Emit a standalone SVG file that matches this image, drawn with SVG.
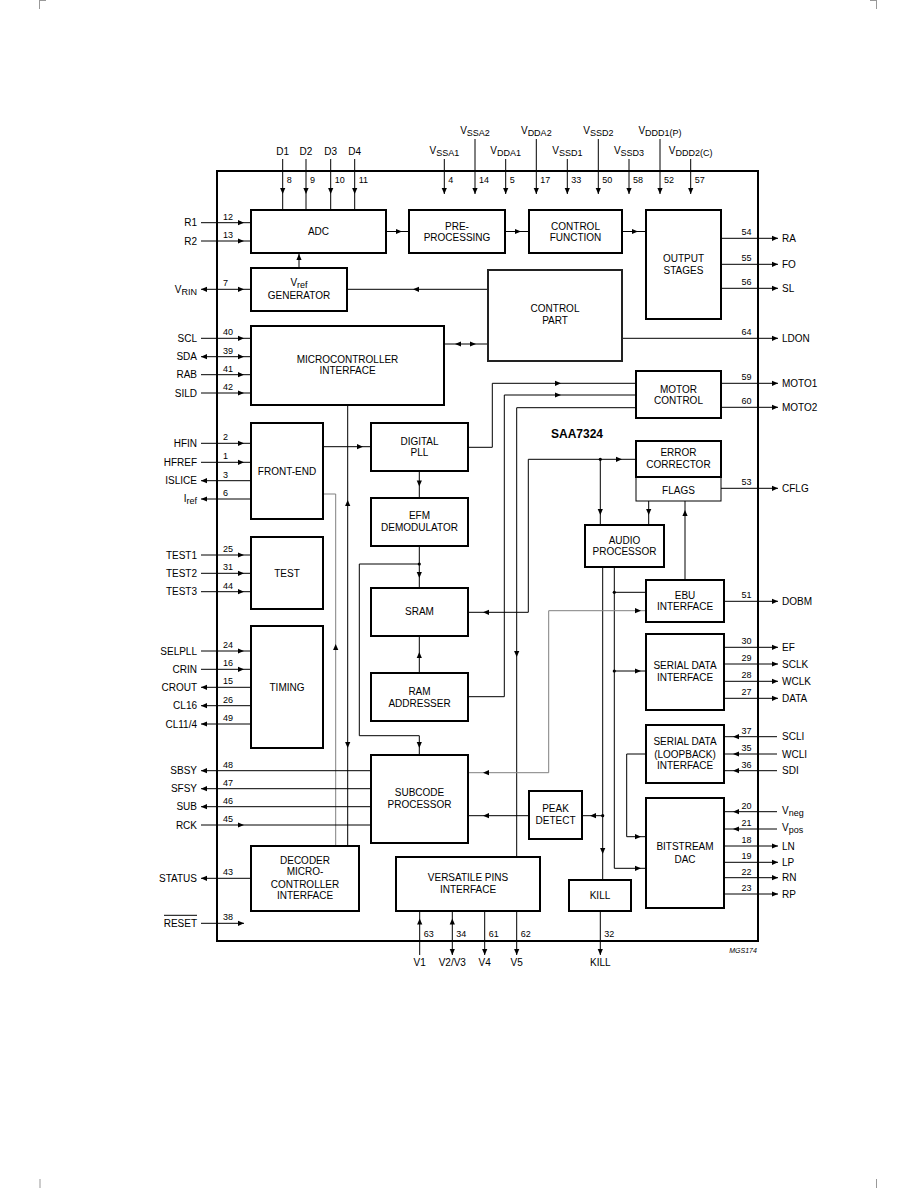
<svg xmlns="http://www.w3.org/2000/svg" width="918" height="1188" viewBox="0 0 918 1188">
<style>
text{font-family:"Liberation Sans",Arial,sans-serif;font-size:10px;fill:#000}
.n{font-size:9px}
.s{font-size:9px}
.bold{font-weight:bold;font-size:12px}
.it{font-style:italic;font-size:7px}
.box{fill:none;stroke:#000;stroke-width:2}
.thin{fill:none;stroke:#000;stroke-width:1}
.l{fill:none;stroke:#000;stroke-width:1}
.g{fill:none;stroke:#808080;stroke-width:1}
.m{stroke:#999;stroke-width:1;fill:none}
</style>
<defs>
<path id="ah" d="M0,0 L-6,-2.6 L-6,2.6 Z" fill="#000"/>
</defs>
<rect width="918" height="1188" fill="#fff"/>
<g id="cropmarks">
<path class="m" d="M39.5,0 V9 M39.5,0.5 H46 M876.5,0 V9 M870,0.5 H876.5 M40,1179 V1188 M876.5,1179 V1188"/>
</g>
<rect id="chip" x="217" y="171" width="541" height="770" class="box"/>
<g id="connectors">
<path class="l" d="M386,231.5 H409 M505,231.5 H529 M622,231.5 H646 M299,268 V253 M488,289.3 H347 M444,344 H488 M323,446.7 H371"/>
<path class="l" d="M468,447.3 H492.3 V383.3 H636 M468,696.7 H504.3 V395 H636 M636,407.7 H516.7 V857"/>
<path class="l" d="M419.3,471 V498 M419.3,546 V588 M419.3,564 H359.3 V735.7 H419.3 V755 M419.3,673 V636"/>
<path class="l" d="M468,612.3 H528.3 V459.3 H636 M600.3,459.3 V525 M648.7,501 V525 M685,580 V501"/>
<path class="l" d="M602.7,567 V880 M602.7,815.7 H582.3 M529,815.7 H468 M614.3,567 V868.3 H646 M614.3,592.3 H646 M614.3,671 H646 M646,754 H626.7 V836.7 H646"/>
<path class="g" d="M468,772.7 H548.7 V610.7 H646 M323,494 H335.7 V846"/>
<path class="l" d="M347.7,405 V846"/>
<circle cx="419.3" cy="564" r="1.6"/><circle cx="600.3" cy="459.3" r="1.6"/><circle cx="602.7" cy="815.7" r="1.6"/><circle cx="614.3" cy="592.3" r="1.6"/><circle cx="614.3" cy="671" r="1.6"/>
<use href="#ah" transform="translate(402,231.5)"/>
<use href="#ah" transform="translate(521,231.5)"/>
<use href="#ah" transform="translate(638,231.5)"/>
<use href="#ah" transform="translate(299,254) rotate(-90)"/>
<use href="#ah" transform="translate(413,289.3) rotate(180)"/>
<use href="#ah" transform="translate(455,344) rotate(180)"/>
<use href="#ah" transform="translate(476,344)"/>
<use href="#ah" transform="translate(363,446.7)"/>
<use href="#ah" transform="translate(561,383.3)"/>
<use href="#ah" transform="translate(561,395)"/>
<use href="#ah" transform="translate(516.7,657) rotate(90)"/>
<use href="#ah" transform="translate(419.3,486.5) rotate(90)"/>
<use href="#ah" transform="translate(419.3,578) rotate(90)"/>
<use href="#ah" transform="translate(419.3,748) rotate(90)"/>
<use href="#ah" transform="translate(419.3,652) rotate(-90)"/>
<use href="#ah" transform="translate(483,612.3) rotate(180)"/>
<use href="#ah" transform="translate(622,459.3)"/>
<use href="#ah" transform="translate(600.3,515) rotate(90)"/>
<use href="#ah" transform="translate(648.7,515) rotate(90)"/>
<use href="#ah" transform="translate(685,510) rotate(-90)"/>
<use href="#ah" transform="translate(602.7,854) rotate(90)"/>
<use href="#ah" transform="translate(590,815.7) rotate(180)"/>
<use href="#ah" transform="translate(483,815.7) rotate(180)"/>
<use href="#ah" transform="translate(641,868.3)"/>
<use href="#ah" transform="translate(641,671)"/>
<use href="#ah" transform="translate(483,772.7) rotate(180)"/>
<use href="#ah" transform="translate(641,610.7)"/>
<use href="#ah" transform="translate(641,836.7)"/>
<use href="#ah" transform="translate(335.7,644) rotate(-90)"/>
<use href="#ah" transform="translate(347.7,500) rotate(-90)"/>
<use href="#ah" transform="translate(347.7,748) rotate(90)"/>
<path class="l" d="M282.7,159 V210 M306,159 V210 M330.7,159 V210 M354.7,159 V210 M444.3,159 V194 M475,139 V194 M505.7,159 V194 M536.3,139 V194 M567.3,159 V194 M598.3,139 V194 M629,159 V194 M660,139 V194 M690.7,159 V194"/>
<use href="#ah" transform="translate(282.7,194) rotate(90)"/>
<use href="#ah" transform="translate(306,194) rotate(90)"/>
<use href="#ah" transform="translate(330.7,194) rotate(90)"/>
<use href="#ah" transform="translate(354.7,194) rotate(90)"/>
<use href="#ah" transform="translate(444.3,194) rotate(90)"/>
<use href="#ah" transform="translate(475,194) rotate(90)"/>
<use href="#ah" transform="translate(505.7,194) rotate(90)"/>
<use href="#ah" transform="translate(536.3,194) rotate(90)"/>
<use href="#ah" transform="translate(567.3,194) rotate(90)"/>
<use href="#ah" transform="translate(598.3,194) rotate(90)"/>
<use href="#ah" transform="translate(629,194) rotate(90)"/>
<use href="#ah" transform="translate(660,194) rotate(90)"/>
<use href="#ah" transform="translate(690.7,194) rotate(90)"/>
<path class="l" d="M201,222.7 H251 M201,241 H251 M201,289.3 H251 M201,338.3 H251 M201,356.7 H251 M201,374.7 H251 M201,393 H251 M201,443.3 H251 M201,462.3 H251 M201,480.7 H251 M201,499 H251 M201,555 H251 M201,573.3 H251 M201,591.7 H251 M201,651 H251 M201,669.3 H251 M201,687.3 H251 M201,705.7 H251 M201,724 H251 M201,770.7 H371 M201,788.7 H371 M201,806.7 H371 M201,825 H371 M201,878.3 H251 M201,923.3 H244"/>
<use href="#ah" transform="translate(244,222.7)"/>
<use href="#ah" transform="translate(244,241)"/>
<use href="#ah" transform="translate(244,289.3)"/>
<use href="#ah" transform="translate(201,289.3) rotate(180)"/>
<use href="#ah" transform="translate(244,338.3)"/>
<use href="#ah" transform="translate(244,356.7)"/>
<use href="#ah" transform="translate(201,356.7) rotate(180)"/>
<use href="#ah" transform="translate(244,374.7)"/>
<use href="#ah" transform="translate(244,393)"/>
<use href="#ah" transform="translate(244,443.3)"/>
<use href="#ah" transform="translate(244,462.3)"/>
<use href="#ah" transform="translate(201,480.7) rotate(180)"/>
<use href="#ah" transform="translate(201,499) rotate(180)"/>
<use href="#ah" transform="translate(244,555)"/>
<use href="#ah" transform="translate(244,573.3)"/>
<use href="#ah" transform="translate(244,591.7)"/>
<use href="#ah" transform="translate(244,651)"/>
<use href="#ah" transform="translate(244,669.3)"/>
<use href="#ah" transform="translate(201,687.3) rotate(180)"/>
<use href="#ah" transform="translate(201,705.7) rotate(180)"/>
<use href="#ah" transform="translate(201,724) rotate(180)"/>
<use href="#ah" transform="translate(201,770.7) rotate(180)"/>
<use href="#ah" transform="translate(201,788.7) rotate(180)"/>
<use href="#ah" transform="translate(201,806.7) rotate(180)"/>
<use href="#ah" transform="translate(244,825)"/>
<use href="#ah" transform="translate(201,878.3) rotate(180)"/>
<use href="#ah" transform="translate(244,923.3)"/>
<path class="l" d="M721,238.3 H778 M721,264.3 H778 M721,288.3 H778 M622,338.3 H778 M721,383.3 H778 M721,407.3 H778 M721,488.3 H778 M724,601.3 H778 M724,647.3 H778 M724,664 H778 M724,681.3 H778 M724,698.3 H778 M724,736.7 H777 M724,754 H777 M724,770.7 H777 M724,811.7 H777 M724,829 H777 M724,846 H778 M724,862.3 H778 M724,877.7 H778 M724,894 H778"/>
<use href="#ah" transform="translate(778,238.3)"/>
<use href="#ah" transform="translate(778,264.3)"/>
<use href="#ah" transform="translate(778,288.3)"/>
<use href="#ah" transform="translate(778,338.3)"/>
<use href="#ah" transform="translate(778,383.3)"/>
<use href="#ah" transform="translate(778,407.3)"/>
<use href="#ah" transform="translate(778,488.3)"/>
<use href="#ah" transform="translate(778,601.3)"/>
<use href="#ah" transform="translate(778,647.3)"/>
<use href="#ah" transform="translate(778,664)"/>
<use href="#ah" transform="translate(778,681.3)"/>
<use href="#ah" transform="translate(778,698.3)"/>
<use href="#ah" transform="translate(733,736.7) rotate(180)"/>
<use href="#ah" transform="translate(733,754) rotate(180)"/>
<use href="#ah" transform="translate(733,770.7) rotate(180)"/>
<use href="#ah" transform="translate(733,811.7) rotate(180)"/>
<use href="#ah" transform="translate(733,829) rotate(180)"/>
<use href="#ah" transform="translate(778,846)"/>
<use href="#ah" transform="translate(778,862.3)"/>
<use href="#ah" transform="translate(778,877.7)"/>
<use href="#ah" transform="translate(778,894)"/>
<path class="l" d="M419.7,911 V955 M452.3,911 V955 M484.7,911 V955 M516.7,911 V955 M600.3,911 V955"/>
<use href="#ah" transform="translate(419.7,918.5) rotate(-90)"/>
<use href="#ah" transform="translate(452.3,918.5) rotate(-90)"/>
<use href="#ah" transform="translate(452.3,955) rotate(90)"/>
<use href="#ah" transform="translate(484.7,955) rotate(90)"/>
<use href="#ah" transform="translate(516.7,955) rotate(90)"/>
<use href="#ah" transform="translate(600.3,955) rotate(90)"/>
</g>
<g id="adc"><rect class="box" x="251" y="210" width="135" height="43"/><text x="318.5" y="235" text-anchor="middle">ADC</text></g>
<g id="preprocessing"><rect class="box" x="409" y="210" width="96" height="43"/><text x="457" y="229.5" text-anchor="middle">PRE-</text><text x="457" y="241" text-anchor="middle">PROCESSING</text></g>
<g id="controlfunction"><rect class="box" x="529" y="210" width="93" height="43"/><text x="575.5" y="229.5" text-anchor="middle">CONTROL</text><text x="575.5" y="241" text-anchor="middle">FUNCTION</text></g>
<g id="outputstages"><rect class="box" x="646" y="210" width="75" height="109"/><text x="683.5" y="261.8" text-anchor="middle">OUTPUT</text><text x="683.5" y="274.2" text-anchor="middle">STAGES</text></g>
<g id="vrefgen"><rect class="box" x="251" y="268" width="96" height="43"/><text x="299" y="285.5" text-anchor="middle">V<tspan class="s" dy="2">ref</tspan></text><text x="299" y="298.5" text-anchor="middle">GENERATOR</text></g>
<g id="controlpart"><rect class="box" x="488" y="270" width="134" height="91" style="stroke:#222"/><text x="555" y="311.5" text-anchor="middle">CONTROL</text><text x="555" y="323.5" text-anchor="middle">PART</text></g>
<g id="mci"><rect class="box" x="251" y="326" width="193" height="79"/><text x="347.5" y="362.5" text-anchor="middle">MICROCONTROLLER</text><text x="347.5" y="374" text-anchor="middle">INTERFACE</text></g>
<g id="frontend"><rect class="box" x="251" y="423" width="72" height="96"/><text x="287" y="474.5" text-anchor="middle">FRONT-END</text></g>
<g id="digitalpll"><rect class="box" x="371" y="423" width="97" height="48"/><text x="419.5" y="444.5" text-anchor="middle">DIGITAL</text><text x="419.5" y="456" text-anchor="middle">PLL</text></g>
<g id="motorcontrol"><rect class="box" x="636" y="371" width="85" height="47"/><text x="678.5" y="392.5" text-anchor="middle">MOTOR</text><text x="678.5" y="404" text-anchor="middle">CONTROL</text></g>
<text id="chipname" class="bold" x="577" y="437.5" text-anchor="middle">SAA7324</text>
<g id="errorcorrector"><rect class="box" x="636" y="441" width="85" height="36"/><rect class="thin" x="636" y="477" width="85" height="24"/><text x="678.5" y="456" text-anchor="middle">ERROR</text><text x="678.5" y="467.5" text-anchor="middle">CORRECTOR</text><text x="678.5" y="493.5" text-anchor="middle">FLAGS</text></g>
<g id="efm"><rect class="box" x="371" y="498" width="97" height="48"/><text x="419.5" y="519" text-anchor="middle">EFM</text><text x="419.5" y="530.8" text-anchor="middle">DEMODULATOR</text></g>
<g id="audioprocessor"><rect class="box" x="585" y="525" width="79" height="42"/><text x="624.5" y="543.5" text-anchor="middle">AUDIO</text><text x="624.5" y="555" text-anchor="middle">PROCESSOR</text></g>
<g id="test"><rect class="box" x="251" y="537" width="72" height="72"/><text x="287" y="577" text-anchor="middle">TEST</text></g>
<g id="sram"><rect class="box" x="371" y="588" width="97" height="48"/><text x="419.5" y="615" text-anchor="middle">SRAM</text></g>
<g id="ebu"><rect class="box" x="646" y="580" width="78" height="42"/><text x="685" y="598.5" text-anchor="middle">EBU</text><text x="685" y="610" text-anchor="middle">INTERFACE</text></g>
<g id="serialdata"><rect class="box" x="646" y="634" width="78" height="76"/><text x="685" y="669" text-anchor="middle">SERIAL DATA</text><text x="685" y="680.8" text-anchor="middle">INTERFACE</text></g>
<g id="timing"><rect class="box" x="251" y="626" width="72" height="122"/><text x="287" y="691" text-anchor="middle">TIMING</text></g>
<g id="ramaddresser"><rect class="box" x="371" y="673" width="97" height="48"/><text x="419.5" y="695" text-anchor="middle">RAM</text><text x="419.5" y="706.8" text-anchor="middle">ADDRESSER</text></g>
<g id="loopback"><rect class="box" x="646" y="725" width="78" height="58"/><text x="685" y="745" text-anchor="middle">SERIAL DATA</text><text x="685" y="757.5" text-anchor="middle">(LOOPBACK)</text><text x="685" y="769" text-anchor="middle">INTERFACE</text></g>
<g id="subcode"><rect class="box" x="371" y="755" width="97" height="88"/><text x="419.5" y="796" text-anchor="middle">SUBCODE</text><text x="419.5" y="808" text-anchor="middle">PROCESSOR</text></g>
<g id="peakdetect"><rect class="box" x="529" y="791" width="53" height="48"/><text x="555.5" y="811.5" text-anchor="middle">PEAK</text><text x="555.5" y="823.5" text-anchor="middle">DETECT</text></g>
<g id="bitstreamdac"><rect class="box" x="646" y="798" width="78" height="110"/><text x="685" y="850" text-anchor="middle">BITSTREAM</text><text x="685" y="862.5" text-anchor="middle">DAC</text></g>
<g id="dmci"><rect class="box" x="251" y="846" width="108" height="65"/><text x="305" y="863.5" text-anchor="middle">DECODER</text><text x="305" y="875.3" text-anchor="middle">MICRO-</text><text x="305" y="887.5" text-anchor="middle">CONTROLLER</text><text x="305" y="899.3" text-anchor="middle">INTERFACE</text></g>
<g id="versatile"><rect class="box" x="396" y="857" width="144" height="54"/><text x="468" y="881" text-anchor="middle">VERSATILE PINS</text><text x="468" y="893" text-anchor="middle">INTERFACE</text></g>
<g id="kill"><rect class="box" x="569" y="880" width="62" height="31"/><text x="600" y="898.5" text-anchor="middle">KILL</text></g>
<g id="pins">
<g text-anchor="middle">
<text x="282.7" y="154.5">D1</text><text x="306" y="154.5">D2</text><text x="330.7" y="154.5">D3</text><text x="354.7" y="154.5">D4</text>
<text x="444.3" y="154">V<tspan class="s" dy="2">SSA1</tspan></text>
<text x="475" y="134">V<tspan class="s" dy="2">SSA2</tspan></text>
<text x="505.7" y="154">V<tspan class="s" dy="2">DDA1</tspan></text>
<text x="536.3" y="134">V<tspan class="s" dy="2">DDA2</tspan></text>
<text x="567.3" y="154">V<tspan class="s" dy="2">SSD1</tspan></text>
<text x="598.3" y="134">V<tspan class="s" dy="2">SSD2</tspan></text>
<text x="629" y="154">V<tspan class="s" dy="2">SSD3</tspan></text>
<text x="660" y="134">V<tspan class="s" dy="2">DDD1(P)</tspan></text>
<text x="690.7" y="154">V<tspan class="s" dy="2">DDD2(C)</tspan></text>
<text x="419.7" y="966">V1</text><text x="452.3" y="966">V2/V3</text><text x="484.7" y="966">V4</text><text x="516.7" y="966">V5</text><text x="600.3" y="966">KILL</text>
</g>
<g>
<text class="n" x="286.7" y="182.5">8</text><text class="n" x="310" y="182.5">9</text><text class="n" x="334.7" y="182.5">10</text><text class="n" x="358.7" y="182.5">11</text>
<text class="n" x="448.3" y="182.5">4</text><text class="n" x="479" y="182.5">14</text><text class="n" x="509.7" y="182.5">5</text><text class="n" x="540.3" y="182.5">17</text><text class="n" x="571.3" y="182.5">33</text><text class="n" x="602.3" y="182.5">50</text><text class="n" x="633" y="182.5">58</text><text class="n" x="664" y="182.5">52</text><text class="n" x="694.7" y="182.5">57</text>
<text class="n" x="423.7" y="936.5">63</text><text class="n" x="456.3" y="936.5">34</text><text class="n" x="488.7" y="936.5">61</text><text class="n" x="520.7" y="936.5">62</text><text class="n" x="604.3" y="936.5">32</text>
</g>
<g text-anchor="end">
<text x="197" y="226.2">R1</text><text x="197" y="244.5">R2</text>
<text x="197" y="292.8">V<tspan class="s" dy="2">RIN</tspan></text>
<text x="197" y="341.8">SCL</text><text x="197" y="360.2">SDA</text><text x="197" y="378.2">RAB</text><text x="197" y="396.5">SILD</text>
<text x="197" y="446.8">HFIN</text><text x="197" y="465.8">HFREF</text><text x="197" y="484.2">ISLICE</text>
<text x="197" y="501.5">I<tspan class="s" dy="2">ref</tspan></text>
<text x="197" y="558.5">TEST1</text><text x="197" y="576.8">TEST2</text><text x="197" y="595.2">TEST3</text>
<text x="197" y="654.5">SELPLL</text><text x="197" y="672.8">CRIN</text><text x="197" y="690.8">CROUT</text><text x="197" y="709.2">CL16</text><text x="197" y="727.5">CL11/4</text>
<text x="197" y="774.2">SBSY</text><text x="197" y="792.2">SFSY</text><text x="197" y="810.2">SUB</text><text x="197" y="828.5">RCK</text>
<text x="197" y="881.8">STATUS</text><text x="197" y="926.8">RESET</text>
</g>
<path class="l" d="M164,915.3 H197"/>
<g>
<text class="n" x="223" y="219.7">12</text><text class="n" x="223" y="238">13</text><text class="n" x="223" y="286.3">7</text>
<text class="n" x="223" y="335.3">40</text><text class="n" x="223" y="353.7">39</text><text class="n" x="223" y="371.7">41</text><text class="n" x="223" y="390">42</text>
<text class="n" x="223" y="440.3">2</text><text class="n" x="223" y="459.3">1</text><text class="n" x="223" y="477.7">3</text><text class="n" x="223" y="496">6</text>
<text class="n" x="223" y="552">25</text><text class="n" x="223" y="570.3">31</text><text class="n" x="223" y="588.7">44</text>
<text class="n" x="223" y="648">24</text><text class="n" x="223" y="666.3">16</text><text class="n" x="223" y="684.3">15</text><text class="n" x="223" y="702.7">26</text><text class="n" x="223" y="721">49</text>
<text class="n" x="223" y="767.7">48</text><text class="n" x="223" y="785.7">47</text><text class="n" x="223" y="803.7">46</text><text class="n" x="223" y="822">45</text>
<text class="n" x="223" y="875.3">43</text><text class="n" x="223" y="920.3">38</text>
</g>
<g>
<text x="782" y="241.8">RA</text><text x="782" y="267.8">FO</text><text x="782" y="291.8">SL</text><text x="782" y="341.8">LDON</text>
<text x="782" y="386.8">MOTO1</text><text x="782" y="410.8">MOTO2</text><text x="782" y="491.8">CFLG</text><text x="782" y="604.8">DOBM</text>
<text x="782" y="650.8">EF</text><text x="782" y="667.5">SCLK</text><text x="782" y="684.8">WCLK</text><text x="782" y="701.8">DATA</text>
<text x="782" y="740.2">SCLI</text><text x="782" y="757.5">WCLI</text><text x="782" y="774.2">SDI</text>
<text x="782" y="814">V<tspan class="s" dy="2">neg</tspan></text><text x="782" y="831.3">V<tspan class="s" dy="2">pos</tspan></text>
<text x="782" y="849.5">LN</text><text x="782" y="865.8">LP</text><text x="782" y="881.2">RN</text><text x="782" y="897.5">RP</text>
</g>
<g>
<text class="n" x="741.5" y="235.3">54</text><text class="n" x="741.5" y="261.3">55</text><text class="n" x="741.5" y="285.3">56</text><text class="n" x="741.5" y="335.3">64</text>
<text class="n" x="741.5" y="380.3">59</text><text class="n" x="741.5" y="404.3">60</text><text class="n" x="741.5" y="485.3">53</text><text class="n" x="741.5" y="598.3">51</text>
<text class="n" x="741.5" y="644.3">30</text><text class="n" x="741.5" y="661">29</text><text class="n" x="741.5" y="678.3">28</text><text class="n" x="741.5" y="695.3">27</text>
<text class="n" x="741.5" y="733.7">37</text><text class="n" x="741.5" y="751">35</text><text class="n" x="741.5" y="767.7">36</text>
<text class="n" x="741.5" y="808.7">20</text><text class="n" x="741.5" y="826">21</text><text class="n" x="741.5" y="843">18</text><text class="n" x="741.5" y="859.3">19</text><text class="n" x="741.5" y="874.7">22</text><text class="n" x="741.5" y="891">23</text>
</g>
</g>
<text class="it" x="743" y="953" text-anchor="middle">MGS174</text>
</svg>
